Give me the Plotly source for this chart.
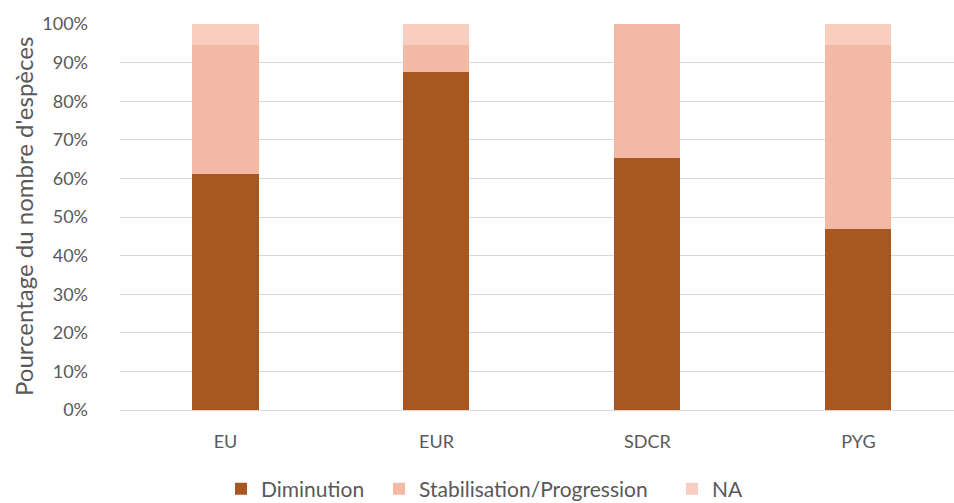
import plotly.graph_objects as go

categories = ["EU", "EUR", "SDCR", "PYG"]
diminution = [61.1, 87.5, 65.4, 46.8]
stabilisation = [33.5, 7.1, 34.6, 47.8]
na_vals = [5.4, 5.4, 0.0, 5.4]
series_names = ["Diminution", "Stabilisation/Progression", "NA"]
ytick_vals = [0, 10, 20, 30, 40, 50, 60, 70, 80, 90, 100]
ytick_text = [f"{v}%" for v in ytick_vals]
y_title = "Pourcentage du nombre d'espèces"

colors = ["#A65722", "#F4B9A5", "#F8CEC1"]
font_family = "Lato, Open Sans, sans-serif"
text_color = "#595959"

legend_ids = ["legend2", "legend3", "legend4"]
legend_x = [221, 379, 672]  # px positions of legend boxes (container)

fig = go.Figure()
for name, vals, col, lid in zip(series_names, [diminution, stabilisation, na_vals], colors, legend_ids):
    fig.add_trace(go.Bar(
        x=categories, y=vals, name=name,
        marker=dict(color=col, line=dict(width=0)),
        legend=lid, showlegend=True,
    ))

W, H = 954, 503
layout_legends = {}
for lid, lx in zip(legend_ids, legend_x):
    layout_legends[lid] = dict(
        orientation="h",
        xref="container", yref="container",
        x=lx / W, xanchor="left",
        y=1 - 489 / H, yanchor="middle",
        font=dict(size=21, color=text_color, family=font_family),
        bgcolor="rgba(0,0,0,0)",
    )

fig.update_layout(
    barmode="stack",
    bargap=0.687,
    width=W, height=H,
    margin=dict(l=120, r=0, t=24, b=93, autoexpand=False),
    paper_bgcolor="white",
    plot_bgcolor="white",
    font=dict(family=font_family, color=text_color, size=18),
    xaxis=dict(
        range=[-0.5, 3.453],
        showgrid=False,
        showline=True, linecolor="#d9d9d9", linewidth=1.3,
        ticks="", ticklabelstandoff=15,
        tickfont=dict(size=18, color=text_color),
    ),
    yaxis=dict(
        range=[0, 100],
        tickvals=ytick_vals, ticktext=ytick_text,
        showgrid=True, gridcolor="#d9d9d9", gridwidth=1.3,
        zeroline=False,
        ticks="", ticklabelstandoff=31,
        tickfont=dict(size=18, color=text_color),
    ),
    annotations=[dict(
        text=y_title, textangle=-90,
        xref="paper", yref="paper",
        x=0, y=0.5, xanchor="center", yanchor="middle",
        xshift=-97, showarrow=False,
        font=dict(size=24, color=text_color, family=font_family),
    )],
    **layout_legends,
)

fig.write_html(
    "out.html",
    config={"displayModeBar": False},
    post_script="document.body.style.margin='0';document.body.style.overflow='hidden';",
)
